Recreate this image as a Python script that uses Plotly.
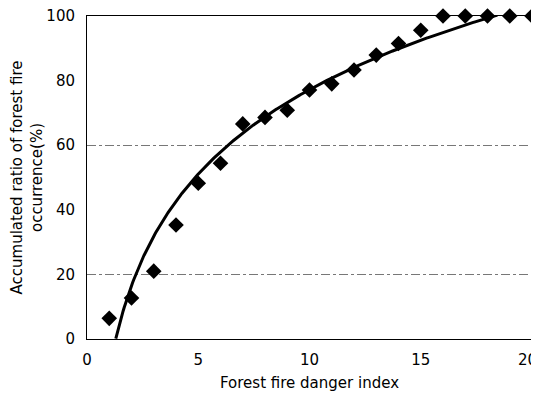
import numpy as np
import plotly.graph_objects as go

danger_index = list(range(1, 21))
accum_ratio = [6.4, 12.7, 21, 35.3, 48.2, 54.4, 66.6, 68.6, 70.8, 77.1,
               79, 83.3, 87.9, 91.5, 95.6, 100, 100, 100, 100, 100]
x_tick_vals = [0, 5, 10, 15, 20]
x_tick_text = ["0", "5", "10", "15", "20"]
y_tick_vals = [0, 20, 40, 60, 80, 100]

# logarithmic trend line y = a*ln(x) + b (coefficients)
trend_a = 37.7
trend_b = -9.6

xt = np.linspace(1.2, 20, 400)
yt = trend_a * np.log(xt) + trend_b
mask = (yt >= -0.5) & (yt <= 100.3)

# the page body has an 8px margin; compensate so the plot lands where the reference has it
W, H = 531, 384

fig = go.Figure()
fig.add_trace(go.Scatter(x=xt[mask], y=yt[mask], mode="lines",
                         line=dict(color="black", width=3), showlegend=False))
fig.add_trace(go.Scatter(x=danger_index, y=accum_ratio, mode="markers",
                         marker=dict(symbol="diamond", size=12, color="black"),
                         cliponaxis=False, showlegend=False))

fnt = dict(family="DejaVu Sans, Liberation Sans, sans-serif", size=15, color="black")
fig.update_layout(
    width=W, height=H,
    margin=dict(l=79, r=7, t=8, b=53),
    plot_bgcolor="white", paper_bgcolor="white",
    font=fnt,
    xaxis=dict(range=[0, 20], tickvals=x_tick_vals,
               ticktext=x_tick_text[:-1] + [""], showgrid=False,
               showline=True, linecolor="black", linewidth=1, mirror=True,
               zeroline=False, ticks="", tickfont=fnt, ticklabelstandoff=7,
               ticklabeloverflow="allow", automargin=False,
               title=dict(text="Forest fire danger index", font=fnt, standoff=13)),
    yaxis=dict(range=[0, 100], tickvals=y_tick_vals, showgrid=False,
               showline=True, linecolor="black", linewidth=1, mirror=True,
               zeroline=False, ticks="", tickfont=fnt, ticklabelstandoff=8,
               ticklabeloverflow="allow", automargin=False,
               title=dict(text="Accumulated ratio of forest fire<br>occurrence(%)", font=fnt, standoff=8)),
    yaxis2=dict(range=[0, 100], overlaying="y", tickvals=[20, 60], showticklabels=False,
                showgrid=True, gridcolor="#777777", griddash="dashdot", gridwidth=1,
                showline=False, zeroline=False, ticks="", automargin=False),
)
# last x tick label, nudged inward so it is not cut by the window edge
fig.add_annotation(x=x_tick_vals[-1], y=0, xref="x", yref="paper", text=x_tick_text[-1],
                   showarrow=False, xanchor="right", yanchor="middle", xshift=6, yshift=-21,
                   font=fnt, borderpad=0)
fig.add_trace(go.Scatter(x=[None], y=[None], yaxis="y2", showlegend=False, hoverinfo="skip"))
fig.write_html("out.html")
